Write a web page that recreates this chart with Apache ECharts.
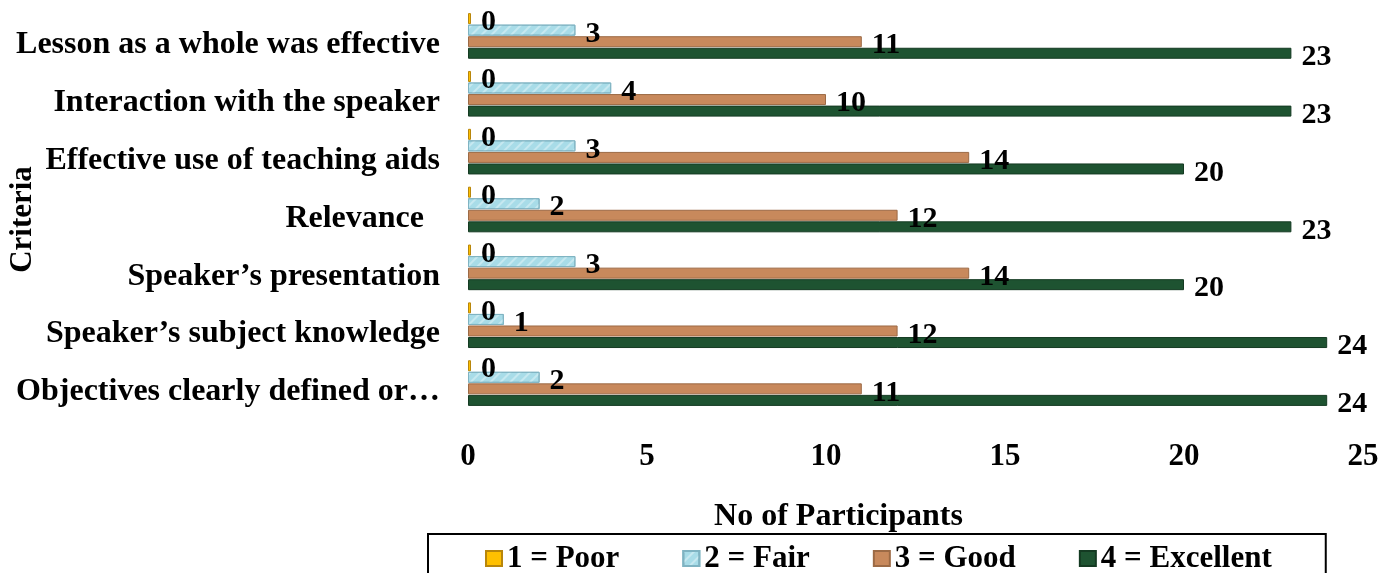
<!DOCTYPE html>
<html>
<head>
<meta charset="utf-8">
<script src="https://cdn.jsdelivr.net/npm/echarts@6/dist/echarts.min.js"></script>
<style>html,body{margin:0;padding:0;background:#fff;}#c{width:1397px;height:573px;}</style>
</head>
<body>
<div id="c"></div>
<script>
const categories = [
  'Objectives clearly defined or…',
  'Speaker’s subject knowledge',
  'Speaker’s presentation',
  'Relevance  ',
  'Effective use of teaching aids',
  'Interaction with the speaker',
  'Lesson as a whole was effective'
];
const seriesNames = ['1 = Poor', '2 = Fair', '3 = Good', '4 = Excellent'];
const poor = [0, 0, 0, 0, 0, 0, 0];
const fair = [2, 1, 3, 2, 3, 4, 3];
const good = [11, 12, 14, 12, 14, 10, 11];
const excellent = [24, 24, 20, 23, 20, 23, 23];
const xTicks = { min: 0, max: 25, interval: 5 };

const FONT = "'Liberation Serif', 'Times New Roman', serif";
const chart = echarts.init(document.getElementById('c'));

function mkSeries(name, data, color, border, extra) {
  return Object.assign({
    name: name,
    type: 'bar',
    data: data,
    barWidth: 11,
    barGap: '5%',
    itemStyle: { color: color, borderColor: border, borderWidth: 1 },
    label: {
      show: true,
      position: 'right',
      distance: 10,
      offset: [0, 4],
      color: '#000',
      fontFamily: FONT,
      fontWeight: 'bold',
      fontSize: 30
    }
  }, extra || {});
}

chart.setOption({
  animation: false,
  backgroundColor: '#fff',
  grid: { left: 468, right: 34, top: 7, bottom: 161, containLabel: false, outerBoundsMode: 'none' },
  xAxis: {
    type: 'value',
    min: xTicks.min, max: xTicks.max, interval: xTicks.interval,
    splitLine: { show: false },
    axisLine: { show: false },
    axisTick: { show: false },
    axisLabel: { margin: 29, color: '#000', fontFamily: FONT, fontWeight: 'bold', fontSize: 31 },
    name: 'No of Participants',
    nameLocation: 'middle',
    nameGap: 89,
    nameMoveOverlap: false,
    nameTextStyle: { color: '#000', fontFamily: FONT, fontWeight: 'bold', fontSize: 32, padding: [0, 154, 0, 0] }
  },
  yAxis: {
    type: 'category',
    data: categories,
    axisLine: { show: false },
    axisTick: { show: false },
    axisLabel: { margin: 28, color: '#000', fontFamily: FONT, fontWeight: 'bold', fontSize: 32, verticalAlign: 'top', lineHeight: 18 },
    name: 'Criteria',
    nameLocation: 'middle',
    nameGap: 430,
    nameMoveOverlap: false,
    nameTextStyle: { color: '#000', fontFamily: FONT, fontWeight: 'bold', fontSize: 31, padding: [0, 20, 0, 0] }
  },
  legend: {
    left: 428,
    top: 534,
    orient: 'horizontal',
    data: seriesNames,
    icon: 'rect',
    itemWidth: 16,
    itemHeight: 15,
    itemGap: 63,
    padding: [9, 54, 10, 57],
    borderColor: '#000',
    borderWidth: 2,
    textStyle: { color: '#000', fontFamily: FONT, fontWeight: 'bold', fontSize: 31 }
  },
  series: [
    mkSeries(seriesNames[0], poor, '#FFC000', '#B8860B', { barMinHeight: 3 }),
    mkSeries(seriesNames[1], fair, '#A8DCE8', '#7FB3C2', {
      itemStyle: {
        color: '#A8DCE8', borderColor: '#7FB3C2', borderWidth: 1,
        decal: { symbol: 'rect', dashArrayX: [1, 0], dashArrayY: [2, 5], rotation: -0.785, color: 'rgba(255,255,255,0.35)' }
      }
    }),
    mkSeries(seriesNames[2], good, '#C8895C', '#9C6A45'),
    mkSeries(seriesNames[3], excellent, '#1E5331', '#143A22')
  ]
});
</script>
</body>
</html>
